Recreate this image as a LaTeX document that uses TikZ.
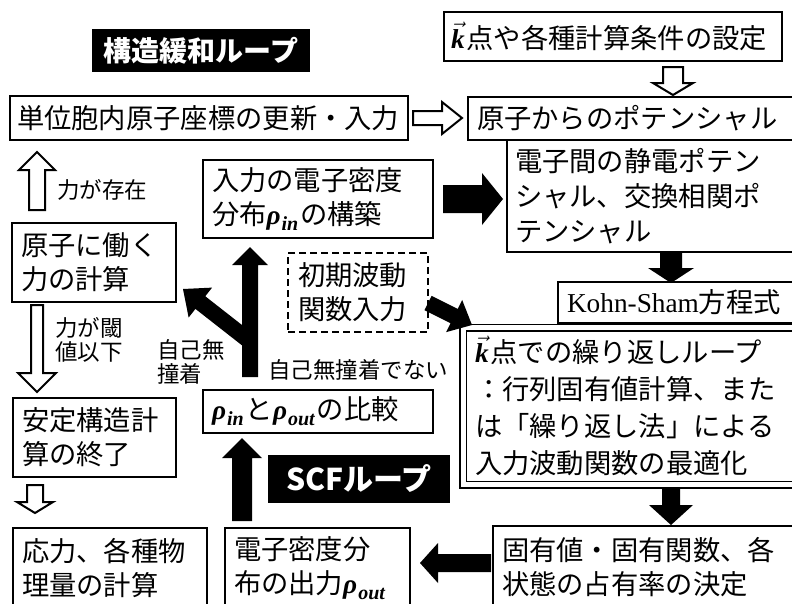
\RequirePackage{fix-cm}
\documentclass[tikz,border=0pt]{standalone}
\usepackage[no-math]{fontspec}
\setmainfont{Noto Sans CJK JP}
\newfontfamily\latinserif{Liberation Serif}
\usetikzlibrary{calc}
\newcommand\boxfnt{\fontsize{27.3}{34}\selectfont}
\newcommand\labfnt{\fontsize{22.5}{24}\selectfont}
\newcommand\tagfnt{\bfseries\fontsize{28}{30}\selectfont}
\newcommand\bisym[1]{{\latinserif\bfseries\itshape #1}}
\newcommand\rhosub[1]{\bisym{ρ\kern1pt\raisebox{-0.22em}{\fontsize{20}{20}\selectfont #1}}\kern2pt}
\newcommand\rhoin{\rhosub{in}}
\newcommand\rhoout{\rhosub{out}}
\newcommand\kvec{$\vec{\hbox{\bisym{k}}}$\kern2pt}
% block arrow: [style]{from}{to}{shaft half width}{head half width}{head length}
\newcommand\blockarrow[6][]{%
  \path[#1] let \p1=(#2), \p2=(#3),
    \n1={atan2(\y2-\y1,\x2-\x1)}, \n2={veclen(\x2-\x1,\y2-\y1)-#6} in
    ($(\p1)+(\n1+90:#4pt)$)
    -- ($(\p1)+(\n1:{\n2*1pt})+(\n1+90:#4pt)$)
    -- ($(\p1)+(\n1:{\n2*1pt})+(\n1+90:#5pt)$)
    -- (\p2)
    -- ($(\p1)+(\n1:{\n2*1pt})+(\n1-90:#5pt)$)
    -- ($(\p1)+(\n1:{\n2*1pt})+(\n1-90:#4pt)$)
    -- ($(\p1)+(\n1-90:#4pt)$) -- cycle;}
\tikzset{
  box/.style={draw, line width=2pt, inner xsep=9pt, inner ysep=0pt, outer sep=0pt,
    anchor=north west, align=left, font=\boxfnt},
  lab/.style={inner sep=0pt, align=left, font=\labfnt},
  blacktag/.style={fill=black, text=white, inner sep=0pt, font=\tagfnt},
  hollow/.style={draw, fill=white, line width=2pt, line join=miter},
  solidarrow/.style={fill=black},
}
\begin{document}
\begin{tikzpicture}[x=1pt,y=-1pt]
\useasboundingbox (0,0) rectangle (792,603);
\fill[white] (0,0) rectangle (792,603);
\clip (0,0) rectangle (792,603);

% labels on black
\node[blacktag, minimum width=218pt, minimum height=43pt] (struct) at (201,50.5) {構造緩和ループ};
\node[blacktag, minimum width=182pt, minimum height=48pt, font=\bfseries\fontsize{30}{32}\selectfont] (scf) at (359,479) {SCFループ};

% boxes
\node[box, minimum width=338pt, minimum height=49pt, text width=324pt, inner xsep=7pt] (kset) at (444,12) {\kvec 点や各種計算条件の設定};
\node[box, minimum width=398pt, minimum height=44pt, text width=384pt, inner xsep=7pt] (upd) at (10,96) {単位胞内原子座標の更新・入力};
\node[box, minimum width=340pt, minimum height=43pt, text width=322pt] (pot) at (468,97) {原子からのポテンシャル};
\node[box, minimum width=300pt, minimum height=112pt, text width=284pt, inner xsep=8pt, font=\fontsize{27.3}{35}\selectfont] (elec) at (507,140) {電子間の静電ポテン\\シャル、交換相関ポ\\テンシャル};
\node[box, minimum width=230pt, minimum height=78pt, text width=212pt] (inp) at (203,160) {入力の電子密度\\分布\rhoin の構築};
\node[box, minimum width=164pt, minimum height=79pt, text width=146pt] (force) at (12,223) {原子に働く\\力の計算};
\node[box, dash pattern=on 7pt off 4pt, minimum width=140pt, minimum height=79pt, text width=120pt, inner xsep=10pt] (init) at (288,253) {初期波動\\関数入力};
\node[box, minimum width=250pt, minimum height=41pt, text width=232pt] (ks) at (558,282) {{\latinserif Kohn-Sham}方程式};
\node[box, double, double distance=5pt, line width=1.5pt, minimum width=345pt, minimum height=157pt, text width=321pt, inner xsep=12pt, font=\fontsize{27.3}{37}\selectfont] (kloop) at (463,327.5) {\kvec 点での繰り返しループ\\：行列固有値計算、また\\は「繰り返し法」による\\入力波動関数の最適化};
\node[box, minimum width=230pt, minimum height=43pt, text width=212pt] (comp) at (203,390) {\rhoin と\rhoout の比較};
\node[box, minimum width=163pt, minimum height=79pt, text width=145pt] (stable) at (13,398) {安定構造計\\算の終了};
\node[box, minimum width=194pt, minimum height=80pt, text width=176pt] (stress) at (13,528) {応力、各種物\\理量の計算};
\node[box, minimum width=185pt, minimum height=80pt, text width=167pt] (dens) at (225,528) {電子密度分\\布の出力\rhoout};
\node[box, minimum width=310pt, minimum height=82pt, text width=292pt] (eigen) at (493,526) {固有値・固有関数、各\\状態の占有率の決定};

% small labels
\node[lab, anchor=west] (l1) at (57,190) {力が存在};
\node[lab, anchor=west] (l2) at (55,340) {力が閾\\値以下};
\node[lab, anchor=west] (l3) at (157,362) {自己無\\撞着};
\node[lab, anchor=west] (l4) at (268,370) {自己無撞着でない};

% arrow end points
\coordinate (h1a) at (673,67);  \coordinate (h1b) at (673,95);
\coordinate (h2a) at (413,118); \coordinate (h2b) at (462,118);
\coordinate (h3a) at (37,210);  \coordinate (h3b) at (37,152);
\coordinate (h4a) at (37,305);  \coordinate (h4b) at (37,392);
\coordinate (h5a) at (35,485);  \coordinate (h5b) at (35,513);
\coordinate (b1a) at (443,199); \coordinate (b1b) at (503,199);
\coordinate (b2a) at (671,251); \coordinate (b2b) at (671,283);
\coordinate (b3a) at (250,377); \coordinate (b3b) at (250,247);
\coordinate (b4a) at (252,343); \coordinate (b4b) at (183,289);
\coordinate (b5a) at (428,303); \coordinate (b5b) at (472,325);
\coordinate (b6a) at (671,487); \coordinate (b6b) at (671,525);
\coordinate (b7a) at (491,563); \coordinate (b7b) at (420,563);
\coordinate (b8a) at (242,521); \coordinate (b8b) at (242,438);

% hollow arrows
\blockarrow[hollow]{h1a}{h1b}{10}{20}{12}
\blockarrow[hollow]{h2a}{h2b}{7}{16}{20}
\blockarrow[hollow]{h3a}{h3b}{8}{18}{18}
\blockarrow[hollow]{h4a}{h4b}{6}{19}{19}
\blockarrow[hollow]{h5a}{h5b}{8}{18}{11}

% solid arrows
\blockarrow[solidarrow]{b1a}{b1b}{14}{26}{21}
\blockarrow[solidarrow]{b2a}{b2b}{11}{23}{15}
\blockarrow[solidarrow]{b3a}{b3b}{8}{18}{18}
\blockarrow[solidarrow]{b4a}{b4b}{8}{19}{22}
\blockarrow[solidarrow]{b5a}{b5b}{8}{18}{20}
\blockarrow[solidarrow]{b6a}{b6b}{9}{22}{20}
\blockarrow[solidarrow]{b7a}{b7b}{9}{20}{18}
\blockarrow[solidarrow]{b8a}{b8b}{10}{20}{20}
\end{tikzpicture}
\end{document}
